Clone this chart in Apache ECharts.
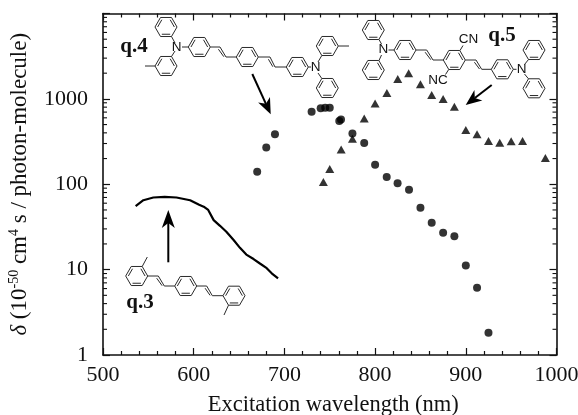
<!DOCTYPE html>
<html><head><meta charset="utf-8">
<style>html,body{margin:0;padding:0;background:#fff}#c{width:578px;height:415px}</style>
<script src="https://cdn.jsdelivr.net/npm/echarts@6/dist/echarts.min.js"></script>
</head><body><div id="c"></div>
<script>
const curveQ3 = [[536,55.6],[544.5,65],[555.5,70],[568,71],[581,70],[596,65],[606,57.5],[611,54.6],[616,50],[622,38],[629,32.6],[636,27.8],[644,22.2],[651,18],[658,15],[666,13.3],[673,11.8],[680.5,10.4],[686,9.05],[693,7.9]];
const circlesQ4 = [[670,140],[680,270],[689.6,384],[730,706],[740,774],[745,786],[750,786],[760.5,550],[762.4,575],[775,394],[788,304],[800,169],[812.8,122],[824.8,103],[837.4,86],[850,53],[862.4,35.4],[875,27],[887.4,24.6],[900,11.2],[912.4,6.14],[925,1.82]];
const trianglesQ5 = [[743,106],[750,151],[762.6,256],[775,341],[788,590],[800,885],[813,1170],[825,1706],[837,1990],[850,1480],[862.4,1108],[875,995],[887.4,807],[900,431],[912.4,384],[925,321],[937.4,306],[950,318],[962.6,321],[987.7,203]];
const minorLogTicks = [2,3,4,5,6,7,8,9,20,30,40,50,60,70,80,90,200,300,400,500,600,700,800,900,2000,3000,4000,5000,6000,7000,8000,9000];
const yTickLabels = {1:'1',10:'10',100:'100',1000:'1000'};

const FONT = '"Liberation Serif","Times New Roman",serif';
const SANS = '"Liberation Sans",Arial,sans-serif';
const INK = '#111';
const BOND = '#2a2a2a';
const g = [];
const seg = pts => g.push({type:'polyline',silent:true,z:5,shape:{points:pts},style:{stroke:BOND,lineWidth:1,fill:null}});
function ring(cx,cy,r=11){
  const v=[];for(let i=0;i<6;i++){const a=i*Math.PI/3;v.push([cx+r*Math.cos(a),cy+r*Math.sin(a)]);}
  seg(v.concat([v[0]]));
  const ir=r*0.76;
  const w=[];for(let i=0;i<6;i++){const a=i*Math.PI/3;w.push([cx+ir*Math.cos(a),cy+ir*Math.sin(a)]);}
  [[1,2],[3,4],[5,0]].forEach(([a,b])=>seg([w[a],w[b]]));
}
function vinyl(a,b,c,d){
  seg([a,b,c,d]);
  const ox=-2.2,oy=1.2;
  seg([[b[0]+ox+0.6,b[1]+oy+1],[c[0]+ox,c[1]+oy-1.5]]);
}
function arrow(x1,y1,x2,y2,len=16,wid=6.5){
  const L=Math.hypot(x2-x1,y2-y1),ux=(x2-x1)/L,uy=(y2-y1)/L,nx=-uy,ny=ux;
  const nb=[x2-ux*len*0.72,y2-uy*len*0.72];
  g.push({type:'line',silent:true,z:6,shape:{x1,y1,x2:nb[0],y2:nb[1]},style:{stroke:'#000',lineWidth:2}});
  g.push({type:'polygon',silent:true,z:6,shape:{points:[[x2,y2],[x2-ux*len+nx*wid,y2-uy*len+ny*wid],nb,[x2-ux*len-nx*wid,y2-uy*len-ny*wid]]},style:{fill:'#000'}});
}
function txt(x,y,text,font,size,weight){
  g.push({type:'text',silent:true,z:7,x,y,style:{text,fontFamily:font,fontSize:size,fontWeight:weight||'normal',fill:INK,align:'center',verticalAlign:'middle'}});
}
// q.4 structure
ring(166,27);ring(166,66);ring(199.3,47);ring(247.3,57);ring(297.3,67);ring(327.3,46);ring(327.3,88);
seg([[155,66],[145,66]]);
seg([[171.5,36.5],[175,43]]);seg([[171.5,56.5],[175,51]]);seg([[182,47],[188.3,47]]);
vinyl([210.3,47],[220,47],[226,57],[236.3,57]);
vinyl([258.3,57],[270,57],[275,67],[286.3,67]);
seg([[308.3,67],[311,67]]);seg([[321.8,55.5],[318,62]]);seg([[321.8,78.5],[318,73]]);
seg([[338.3,46],[349,46]]);
txt(176.7,47.5,'N',SANS,13.5);txt(315.7,67.5,'N',SANS,13.5);
// q.5 structure
ring(373.3,30);ring(373.3,70);ring(405,50);ring(454.3,60);ring(502.3,69.3);ring(534,50);ring(534,88.3);
seg([[379,39.5],[381.5,44]]);seg([[379,60.5],[381.5,55]]);seg([[388.5,50],[394,50]]);
vinyl([416,50],[426.7,50],[433,60],[443.3,60]);
vinyl([465.3,60],[476,60],[481.7,69.3],[491.3,69.3]);
seg([[460,50.5],[463,45.5]]);seg([[448.7,69.5],[445.5,74.5]]);
seg([[513.3,69.3],[516.5,69.3]]);seg([[528.5,59.5],[524.5,64.5]]);seg([[528.5,78.8],[524.5,74]]);
txt(383.3,49.5,'N',SANS,13.5);txt(521.7,69.5,'N',SANS,13.5);
txt(468.5,39.5,'CN',SANS,13.5);txt(438,80,'NC',SANS,13.5);
// q.3 structure
ring(136.7,276);ring(185.7,286);ring(234,295.7);
seg([[142.2,266.5],[147.3,257]]);seg([[228.5,305.2],[224,315]]);
vinyl([147.7,276],[158.3,276],[164.3,286],[174.7,286]);
vinyl([196.7,286],[206.7,286],[212.3,295.7],[223,295.7]);
// arrows and compound labels
arrow(252.3,74,270.7,114.3);
arrow(491.7,85,465.7,105);
arrow(168.3,262.3,168.3,210,18,6.5);
txt(134,47,'q.4',FONT,21,'bold');
txt(502,36,'q.5',FONT,21,'bold');
txt(140,303,'q.3',FONT,21,'bold');

const axisLine = {show:true,lineStyle:{color:'#111',width:1.6}};
const xCommon = {type:'value',min:500,max:1000,interval:100,axisLine,
  axisTick:{inside:true,length:7,lineStyle:{color:'#111',width:1.2}},
  minorTick:{show:true,splitNumber:5,length:4,lineStyle:{color:'#111',width:1.2}},
  splitLine:{show:false},minorSplitLine:{show:false}};
const yCommon = {type:'log',logBase:10,min:1,max:10000,axisLine,
  axisTick:{inside:true,length:7,lineStyle:{color:'#111',width:1.2}},
  minorTick:{show:false},splitLine:{show:false},minorSplitLine:{show:false}};

const chart = echarts.init(document.getElementById('c'),null,{renderer:'canvas'});
chart.setOption({
  animation:false,backgroundColor:'#fff',
  grid:{left:103,top:13.5,width:453.5,height:341.5,containLabel:false,outerBoundsMode:'none'},
  xAxis:[
    Object.assign({},xCommon,{position:'bottom',name:'Excitation wavelength (nm)',nameLocation:'middle',nameGap:39,
      nameTextStyle:{fontFamily:FONT,fontSize:22.5,color:INK,padding:[0,0,0,7]},
      axisLabel:{fontFamily:FONT,fontSize:22,color:INK,margin:9,showMinLabel:true,showMaxLabel:true,formatter:v=>String(v)}}),
    Object.assign({},xCommon,{position:'top',axisLabel:{show:false}})
  ],
  yAxis:[
    Object.assign({},yCommon,{position:'left',
      name:'{d|δ} ({t|10}{s|-50}{t| cm}{s|4}{t| s / photon-molecule)}',nameLocation:'middle',nameGap:70,nameRotate:90,
      nameTextStyle:{fontFamily:FONT,fontSize:23,color:INK,rich:{
        d:{fontFamily:FONT,fontSize:23,fontStyle:'italic',color:INK},
        t:{fontFamily:FONT,fontSize:23,color:INK},
        s:{fontFamily:FONT,fontSize:14,color:INK,verticalAlign:'top',lineHeight:26}}},
      axisLabel:{fontFamily:FONT,fontSize:22,color:INK,margin:15,showMinLabel:true,showMaxLabel:true,
        formatter:v=>yTickLabels[Math.round(v)]||''}}),
    Object.assign({},yCommon,{position:'right',axisLabel:{show:false}})
  ],
  series:[
    {name:'q.3',type:'line',data:curveQ3,showSymbol:false,symbol:'none',lineStyle:{color:'#000',width:2.2},z:3},
    {name:'q.4',type:'scatter',data:circlesQ4,symbol:'circle',symbolSize:8,itemStyle:{color:'#000'},z:4},
    {name:'q.5',type:'scatter',data:trianglesQ5,symbol:'triangle',symbolSize:[9,8],itemStyle:{color:'#000'},z:4},
    {name:'log minor ticks',type:'custom',clip:false,silent:true,z:2,
      data:minorLogTicks.map(v=>[500,v]),
      encode:{x:0,y:1},
      renderItem:(params,api)=>{
        const v=api.value(1);
        const l=api.coord([500,v]),r=api.coord([1000,v]);
        const st={stroke:'#111',lineWidth:1.1,fill:null};
        return {type:'group',children:[
          {type:'line',shape:{x1:l[0],y1:l[1],x2:l[0]+4,y2:l[1]},style:st},
          {type:'line',shape:{x1:r[0],y1:r[1],x2:r[0]-4,y2:r[1]},style:st}
        ]};
      }}
  ],
  graphic:g
});
</script></body></html>
